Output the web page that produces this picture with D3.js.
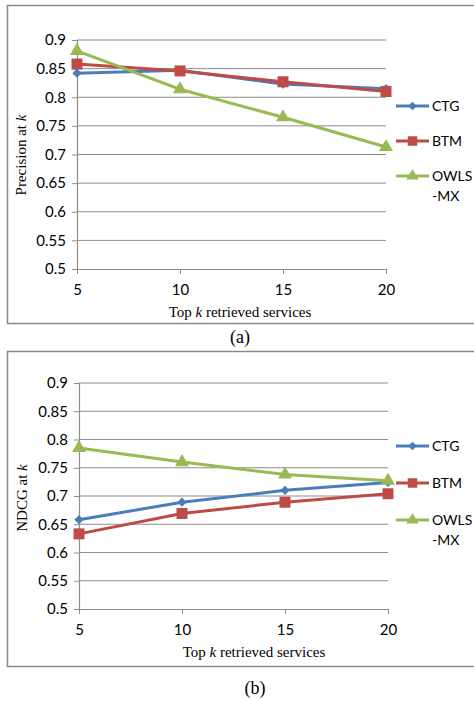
<!DOCTYPE html>
<html>
<head>
<meta charset="utf-8">
<script src="https://cdn.jsdelivr.net/npm/d3@7"></script>
<style>
  body { margin: 0; background: #fff; }
  svg { display: block; }
</style>
</head>
<body>
<div id="chart"></div>
<script>
var topK = [5, 10, 15, 20];
var yTicks = [0.5, 0.55, 0.6, 0.65, 0.7, 0.75, 0.8, 0.85, 0.9];
var seriesNames = ["CTG", "BTM", "OWLS-MX"];

// panel (a) precision at k
var precCTG = [0.842, 0.847, 0.823, 0.815];
var precBTM = [0.858, 0.846, 0.827, 0.810];
var precOWLS = [0.881, 0.814, 0.765, 0.713];

// panel (b) NDCG at k
var ndcgCTG = [0.658, 0.689, 0.710, 0.724];
var ndcgBTM = [0.633, 0.669, 0.689, 0.704];
var ndcgOWLS = [0.785, 0.760, 0.738, 0.727];

var colors = ["#4a7ebb", "#be4b48", "#98b954"];
var shapes = [d3.symbolDiamond2, d3.symbolSquare, d3.symbolTriangle];
var markSize = [55, 121, 85];
var legMarkSize = [45, 90, 65];

var svg = d3.select("#chart").append("svg")
    .attr("width", 474)
    .attr("height", 701);

function drawPanel(opt, values) {
    var g = svg.append("g");
    // outer frame
    g.append("rect")
        .attr("x", 7.5).attr("y", opt.top + 0.5)
        .attr("width", 480).attr("height", opt.frameH)
        .attr("fill", "none").attr("stroke", "#898989").attr("stroke-width", 1.5);

    var x = d3.scalePoint().domain(topK).range([opt.x0, opt.x1]);
    var y = d3.scaleLinear().domain([0.5, 0.9]).range([opt.y0, opt.y1]);

    // gridlines
    g.selectAll("line.grid")
        .data(yTicks.slice(1))
        .enter().append("line")
        .attr("class", "grid")
        .attr("x1", opt.x0).attr("x2", opt.x1)
        .attr("y1", function(d) { return y(d); })
        .attr("y2", function(d) { return y(d); })
        .attr("stroke", "#8c8c8c").attr("stroke-width", 1);

    var yAxis = g.append("g")
        .attr("transform", "translate(" + opt.x0 + ",0)")
        .call(d3.axisLeft(y).tickValues(yTicks).tickSize(5).tickPadding(6)
              .tickFormat(function(d) { return d3.format("")(+d.toFixed(2)); }));
    var xAxis = g.append("g")
        .attr("transform", "translate(0," + opt.y0 + ")")
        .call(d3.axisBottom(x).tickSize(5).tickPadding(10).tickSizeOuter(0));
    [yAxis, xAxis].forEach(function(a) {
        a.select(".domain").attr("stroke", "#8c8c8c").attr("stroke-width", 1.2);
        a.selectAll(".tick line").attr("stroke", "#8c8c8c");
        a.selectAll("text").attr("font-family", "Lato").attr("font-size", 15).attr("fill", "#000");
    });

    // titles
    var xt = g.append("text")
        .attr("x", opt.xTitleX).attr("y", opt.xTitleY)
        .attr("text-anchor", "middle")
        .attr("font-family", "Liberation Serif").attr("font-size", 15);
    xt.append("tspan").text("Top ");
    xt.append("tspan").attr("font-style", "italic").text("k");
    xt.append("tspan").text(" retrieved services");

    var yt = g.append("text")
        .attr("transform", "translate(" + opt.yTitleX + "," + opt.yTitleY + ") rotate(-90)")
        .attr("text-anchor", "middle")
        .attr("font-family", "Liberation Serif").attr("font-size", 15);
    yt.append("tspan").text(opt.yLabel + " at ");
    yt.append("tspan").attr("font-style", "italic").text("k");

    var line = d3.line()
        .x(function(d, i) { return x(topK[i]); })
        .y(function(d) { return y(d); });

    values.forEach(function(vals, si) {
        g.append("path")
            .attr("d", line(vals))
            .attr("fill", "none")
            .attr("stroke", colors[si])
            .attr("stroke-width", 3);
    });
    values.forEach(function(vals, si) {
        g.selectAll("path.m" + si)
            .data(vals)
            .enter().append("path")
            .attr("class", "m" + si)
            .attr("transform", function(d, i) { return "translate(" + x(topK[i]) + "," + y(d) + ")"; })
            .attr("d", d3.symbol().type(shapes[si]).size(markSize[si]))
            .attr("fill", colors[si]);
    });

    // legend
    var lg = g.append("g");
    seriesNames.forEach(function(name, si) {
        var ly = opt.legY[si];
        lg.append("line")
            .attr("x1", 396).attr("x2", 429)
            .attr("y1", ly).attr("y2", ly)
            .attr("stroke", colors[si]).attr("stroke-width", 3);
        lg.append("path")
            .attr("transform", "translate(412.5," + ly + ")")
            .attr("d", d3.symbol().type(shapes[si]).size(legMarkSize[si]))
            .attr("fill", colors[si]);
        var t = lg.append("text")
            .attr("x", 432).attr("y", ly + 5)
            .attr("font-family", "Lato").attr("font-size", 14);
        if (name == "OWLS-MX") {
            t.append("tspan").text("OWLS");
            t.append("tspan").attr("x", 432).attr("dy", 20).text("-MX");
        } else {
            t.text(name);
        }
    });

    svg.append("text")
        .attr("x", opt.capX).attr("y", opt.capY)
        .attr("text-anchor", "middle")
        .attr("font-family", "Liberation Serif").attr("font-size", 18)
        .text(opt.caption);
}

drawPanel({
    top: 5, frameH: 318,
    x0: 77, x1: 386, y0: 269, y1: 40,
    xTitleX: 240, xTitleY: 317,
    yTitleX: 26, yTitleY: 155, yLabel: "Precision",
    legY: [106, 141, 176],
    caption: "(a)", capX: 240, capY: 343
}, [precCTG, precBTM, precOWLS]);

drawPanel({
    top: 351, frameH: 315,
    x0: 79, x1: 388, y0: 609, y1: 383,
    xTitleX: 254, xTitleY: 657,
    yTitleX: 27, yTitleY: 498, yLabel: "NDCG",
    legY: [446, 483, 520],
    caption: "(b)", capX: 255, capY: 694
}, [ndcgCTG, ndcgBTM, ndcgOWLS]);
</script>
</body>
</html>
